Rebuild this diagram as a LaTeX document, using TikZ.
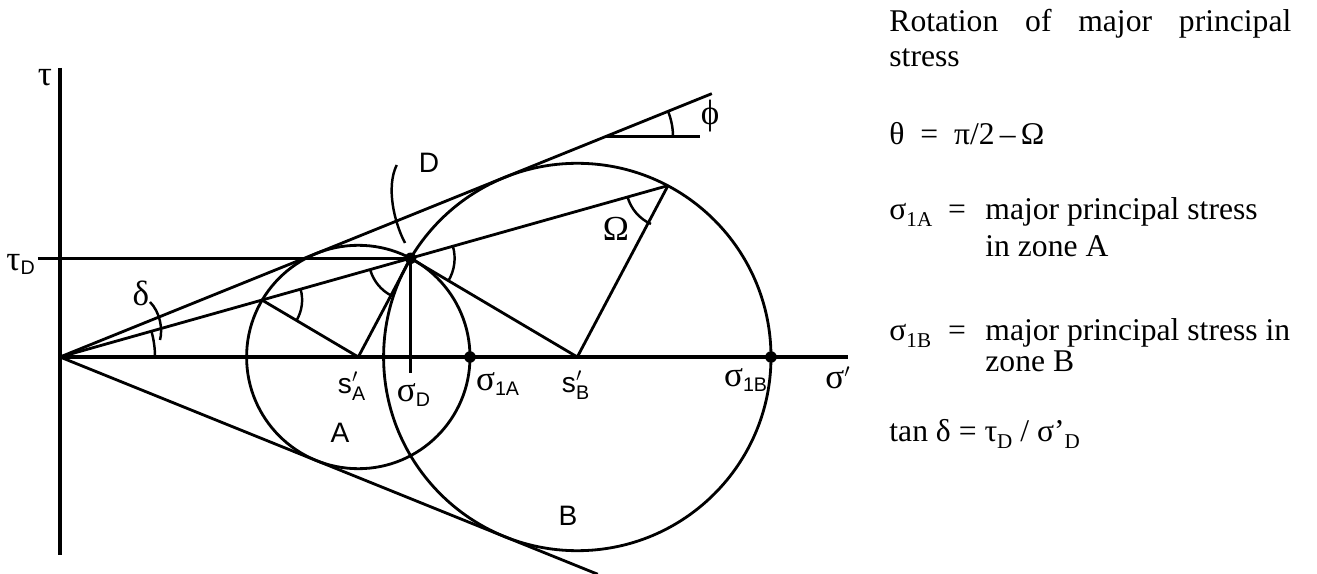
\documentclass[tikz,border=0pt]{standalone}
\usepackage{amsmath}
\usepackage{fontspec}
\setmainfont{Liberation Serif}
\setsansfont{Liberation Sans}
\usetikzlibrary{calc}
\newcommand{\gr}[1]{\text{\fontsize{20}{20}\selectfont\rmfamily #1}}
\newcommand{\tsub}[1]{\raisebox{-0.45ex}{\fontsize{12}{12}\selectfont #1}}

\begin{document}
\begin{tikzpicture}[
  x=0.02cm, y=0.02cm,
  line width=1.6pt,
  lbl/.style={font=\fontsize{16}{18}\selectfont\sffamily, inner sep=0pt},
  txt/.style={font=\fontsize{18}{20.5}\selectfont, inner sep=0pt, anchor=base west},
  dot/.style={circle, fill, inner sep=0pt, minimum size=2.3mm},
  anglemark/.style={line width=1.4pt},
]
\useasboundingbox (-60,-217) rectangle (1257,357);

% points of the construction
\coordinate (O)  at (0,0);
\coordinate (sA) at (298.3,0);
\coordinate (sB) at (517.3,0);
\coordinate (D)  at (350.6,98.7);
\coordinate (L)  at (202.1,56.9);
\coordinate (W)  at (608,171.4);
\coordinate (s1A) at (410,0);
\coordinate (s1B) at (711,0);
\coordinate (P)  at (545,220.2);

% axes
\draw[line width=1.8pt] (0,289) coordinate (tautop) -- (0,-198) coordinate (taubot);
\draw[line width=1.8pt] (O) -- (788,0) coordinate (sigend);

% failure envelopes
\draw (O) -- (22:703) coordinate (envtop);
\draw (O) -- (-22:580) coordinate (envbot);

% Mohr circles
\draw (sA) circle[radius=111.7];
\draw (sB) circle[radius=193.7];

% stress point D and its lines
\draw (O) -- (W);
\draw (-22,98.7) coordinate (tauD) -- (D);
\draw (D) -- ($(D |- O)+(0,-16)$) coordinate (sigD);
\draw (L) -- (sA) -- (D) -- (sB) -- (W);
\node[dot] (dD) at (D) {};
\node[dot] (d1A) at (s1A) {};
\node[dot] (d1B) at (s1B) {};

% angle marks
\draw[anglemark] (95,0) arc[start angle=0, end angle=15.7, radius=95];
\draw[anglemark] (90,55) .. controls (100,45) and (103,28) .. (100,17);
\draw[anglemark] ($(L)+(15.7:40)$) arc[start angle=15.7, end angle=-30.6, radius=40];
\draw[anglemark] ($(D)+(195.7:42)$) arc[start angle=195.7, end angle=242.1, radius=42];
\draw[anglemark] ($(D)+(15.7:44)$) arc[start angle=15.7, end angle=-30.6, radius=44];
\draw[anglemark] ($(W)+(195.7:42)$) arc[start angle=195.7, end angle=246, radius=42];
\draw (P) -- (640,220.2) coordinate (phiend);
\draw[anglemark] ($(P)+(0:68)$) arc[start angle=0, end angle=22, radius=68];
\draw[anglemark] (336.7,192) .. controls (326,170) and (334,135) .. (345,114);

% labels of the diagram
\node[lbl] (ltau)  at (-15,279) {$\gr{τ}$};
\node[lbl, anchor=east] (ltauD) at ($(tauD)+(-1,-6)$) {$\gr{τ}_{\textsf{D}}$};
\node[lbl] (ldelta) at (81,64) {$\gr{δ}$};
\node[lbl] (lD)    at (369,194) {D};
\node[lbl] (lOm)   at (556,128) {$\gr{Ω}$};
\node[lbl] (lphi)  at (650,241) {$\gr{ϕ}$};
\node[lbl] (lA)    at (280,-76) {A};
\node[lbl] (lB)    at (508,-159) {B};
\node[lbl] (lsA)   at (292,-29) {$\textsf{s}_{\textsf{A}}^{\prime}$};
\node[lbl] (lsD)   at (354,-38) {$\gr{σ}_{\textsf{D}}$};
\node[lbl] (ls1A)  at (438,-27) {$\gr{σ}_{\textsf{1A}}$};
\node[lbl] (lsB)   at (516,-28) {$\textsf{s}_{\textsf{B}}^{\prime}$};
\node[lbl] (ls1B)  at (686,-23) {$\gr{σ}_{\textsf{1B}}$};
\node[lbl] (lsig)  at (778,-21) {$\gr{σ}'$};

% notes on the right
\node[txt] (rot1) at (828,325) {\makebox[8.04cm][s]{Rotation\hfill of\hfill major\hfill principal}};
\node[txt] (rot2) at (828,290) {stress};
\node[txt] (theta) at (828,212) {θ\enspace=\enspace π/2\,–\,Ω};
\node[txt] (n1A) at (828,137) {σ\tsub{1A}};
\node[txt, anchor=base] (e1A) at (897,137) {=};
\node[txt] (t1A) at (924,137) {major principal stress};
\node[txt] (t1Ab) at (924,100) {in zone A};
\node[txt] (n1B) at (828,16) {σ\tsub{1B}};
\node[txt, anchor=base] (e1B) at (897,16) {=};
\node[txt] (t1B) at (924,16) {major principal stress in};
\node[txt] (t1Bb) at (924,-15) {zone B};
\node[txt] (tand) at (828,-85) {tan δ = τ\tsub{D} / σ’\tsub{D}};
\end{tikzpicture}
\end{document}
